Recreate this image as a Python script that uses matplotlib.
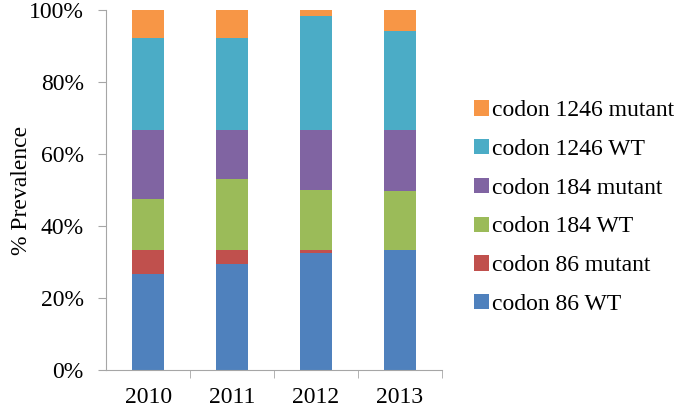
import matplotlib
matplotlib.use("Agg")
import matplotlib.pyplot as plt
import numpy as np

plt.rcParams['font.family'] = ['Liberation Serif', 'DejaVu Serif']

years = ['2010', '2011', '2012', '2013']
series_names = ['codon 86 WT', 'codon 86 mutant', 'codon 184 WT',
                'codon 184 mutant', 'codon 1246 WT', 'codon 1246 mutant']
codon86_wt = [26.8, 29.4, 32.5, 33.3]
codon86_mut = [6.5, 3.9, 0.8, 0.0]
codon184_wt = [14.1, 19.7, 16.7, 16.4]
codon184_mut = [19.3, 13.7, 16.7, 17.0]
codon1246_wt = [25.7, 25.5, 31.7, 27.4]
codon1246_mut = [7.6, 7.8, 1.6, 5.9]
colors = ['#4F81BD', '#C0504D', '#9BBB59', '#8064A2', '#4BACC6', '#F79646']

values = [codon86_wt, codon86_mut, codon184_wt, codon184_mut, codon1246_wt, codon1246_mut]

fig = plt.figure(figsize=(6.8, 4.08), dpi=100)
ax = fig.add_axes([0.156, 0.093, 0.494, 0.882])

x = np.arange(len(years))
bottom = np.zeros(len(years))
handles = []
for vals, name, c in zip(values, series_names, colors):
    h = ax.bar(x, vals, 0.39, bottom=bottom, color=c, label=name)
    handles.append(h)
    bottom += np.array(vals)

ax.set_xlim(-0.5, 3.5)
ax.set_ylim(0, 100)
ax.set_yticks(range(0, 101, 20))
ax.set_yticklabels(['%d%%' % v for v in range(0, 101, 20)])
ax.set_xticks(x)
ax.set_xticklabels(years)
ax.set_xticks([0.5, 1.5, 2.5, 3.5], minor=True)
ax.tick_params(axis='x', which='major', length=0, labelsize=17, pad=12)
ax.tick_params(axis='x', which='minor', length=6, direction='out', color='#a6a6a6')
ax.tick_params(axis='y', length=6, direction='out', color='#a6a6a6', labelsize=17, pad=10)
for s in ['top', 'right']:
    ax.spines[s].set_visible(False)
for s in ['left', 'bottom']:
    ax.spines[s].set_color('#a6a6a6')
ax.set_ylabel('% Prevalence', fontsize=17, labelpad=-2)

fig.legend(handles[::-1], series_names[::-1], loc='upper left',
           bbox_to_anchor=(0.68, 0.783), frameon=False, fontsize=17,
           handlelength=0.62, handleheight=0.62, handletextpad=0.12,
           labelspacing=0.75, borderpad=0)

fig.savefig('out.png', dpi=100)
